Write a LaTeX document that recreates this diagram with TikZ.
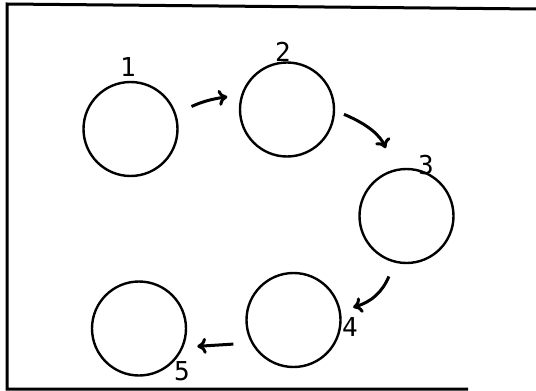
\documentclass[tikz,border=0pt]{standalone}
\usepackage{fontspec}
\newfontfamily\lblfont{DejaVu Sans Mono}
\usetikzlibrary{positioning, arrows.meta}

\begin{document}
\begin{tikzpicture}[
        % ----- 全局样式 -----
        x=0.5pt, y=-0.5pt,
        >={To[length=4.5pt,width=8pt]},
        state/.style={circle, draw, line width=1.2pt, minimum size=47pt, inner sep=0pt, outer sep=7pt},
        lbl/.style={font=\lblfont\fontsize{13}{15}\selectfont, inner sep=0pt},
        flow/.style={->, line width=1.5pt},
        frame/.style={line width=1.5pt}
    ]
    \useasboundingbox (0,0) rectangle (536,391);

    % ----- 边框 -----
    \draw[frame] (536,9) -- (7,4) -- (7,389) -- (468,389);

    % ----- 圆 -----
    \node[state] (c1) at (130.5,129) {};
    \node[state] (c2) at (287,109.5) {};
    \node[state] (c3) at (406.5,216) {};
    \node[state] (c4) at (293.5,320) {};
    \node[state] (c5) at (139,328.5) {};

    % ----- 编号 -----
    \node[lbl] (l1) at (128,67) {1};
    \node[lbl] (l2) at (283,52) {2};
    \node[lbl] (l3) at (426,165) {3};
    \node[lbl] (l4) at (350,327) {4};
    \node[lbl] (l5) at (182,371) {5};

    % ----- 绘制箭头 -----
    \draw[flow, shorten <=2pt] (c1.20) to[bend left=8] (c2.168);
    \draw[flow, shorten <=-2pt, shorten >=5pt] (c2.-6) to[bend left=22] (c3.106);
    \draw[flow, shorten <=1pt] (c3.254) to[bend left=25] (c4.12);
    \draw[flow, shorten <=2pt] (c4.203) -- (c5.343);
\end{tikzpicture}
\end{document}
